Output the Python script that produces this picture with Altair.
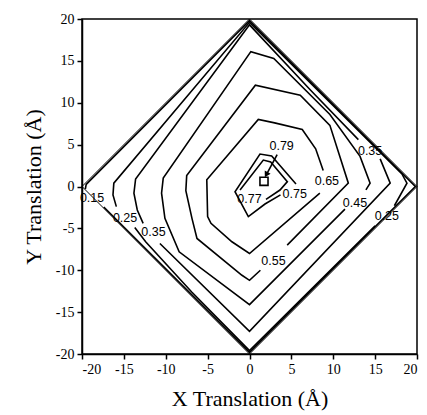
import altair as alt
import pandas as pd

ticks = [-20, -15, -10, -5, 0, 5, 10, 15, 20]

# diamond boundary of the sampled region
edge = [(0, 20), (20, 0), (0, -20), (-20, 0), (0, 20)]

# contour segments (x, y); split where labels sit
c015 = [[(-17.4, -2.45), (0, -19.8), (19.8, 0), (0, 19.8), (-19.5, 0.25), (-19.6, -0.3)]]
c025 = [[(-15.9, -2.4), (-16.3, -1.0), (-16.2, 0.4), (0, 19.6), (18.2, 1.5), (18.8, 0.4), (17.3, -2.3)],
        [(15.0, -4.7), (0, -19.6), (-6.9, -12.6), (-12.4, -6.6), (-13.7, -4.9)]]
c035 = [[(-12.7, -4.4), (-13.4, -2.8), (-13.8, -0.8), (-13.6, 0.9), (0, 19.3), (7.3, 11.5), (13.0, 5.6)],
        [(15.6, 3.3), (16.8, 0.4), (0, -17.3), (-10.7, -6.8)]]
c045 = [[(11.4, -2.7), (0, -14.1), (-8.4, -7.8), (-10.1, -3.8), (-10.5, -0.8), (-10.3, 1.0),
         (0.16, 16.1), (2.9, 15.3), (9.6, 8.6), (13.2, 3.6), (14.4, 0.4), (13.9, -0.4)]]
c055 = [[(4.5, -7.0), (11.8, 0.4), (9.6, 7.3), (6.06, 10.9), (0.7, 12.1), (-7.5, 1.3), (-7.6, -0.5),
         (-6.87, -3.8), (-6.27, -6.2), (-0.9, -10.6), (0, -11.2), (1.3, -10.0)]]
c065 = [[(8.4, -0.8), (0, -8.0), (-2.1, -6.6), (-4.6, -4.4), (-5.0, -3.6), (-5.1, 0.8), (1.05, 8.0),
         (3.0, 7.6), (6.3, 6.8), (7.9, 4.5), (8.8, 1.9)]]
c075 = [[(5.55, 0.3), (2.65, 3.64), (1.25, 3.88), (-1.73, -0.62), (-0.14, -3.6), (1.85, -2.09), (3.7, -1.0)]]
c077 = [[(-1.13, -0.42), (1.65, 3.16), (2.53, 2.93), (4.52, 0.58), (3.64, -0.42), (1.97, -1.53)]]

label_text = ["0.79", "0.77", "0.75", "0.65", "0.55", "0.45", "0.35", "0.25", "0.15", "0.25", "0.35"]
label_x = [3.84, 0.0, 5.4, 9.24, 2.87, 12.6, 14.4, 16.4, -18.8, -14.86, -11.47]
label_y = [4.84, -1.5, -0.88, 0.64, -8.88, -2.0, 4.26, -3.5, -1.35, -3.8, -5.4]

peak_x = [1.73]
peak_y = [0.62]
arrow_x = [3.3, 2.0]
arrow_y = [3.8, 1.4]

rows = []
for name, segs in [("0.15", c015), ("0.25", c025), ("0.35", c035), ("0.45", c045),
                   ("0.55", c055), ("0.65", c065), ("0.75", c075), ("0.77", c077)]:
    for si, seg in enumerate(segs):
        for oi, (x, y) in enumerate(seg):
            rows.append({"x": x, "y": y, "seg": f"{name}-{si}", "ord": oi})
lines_df = pd.DataFrame(rows)
edge_df = pd.DataFrame([{"x": x, "y": y, "ord": i} for i, (x, y) in enumerate(edge)])
labels_df = pd.DataFrame({"x": label_x, "y": label_y, "t": label_text})
peak_df = pd.DataFrame({"x": peak_x, "y": peak_y})
arrow_df = pd.DataFrame({"x": arrow_x, "y": arrow_y, "ord": [0, 1]})
tip_df = pd.DataFrame({"x": [arrow_x[1]], "y": [arrow_y[1]]})

X = alt.X("x:Q", scale=alt.Scale(domain=[-20, 20], nice=False),
          axis=alt.Axis(values=ticks, title="X Translation (Å)", labelExpr="'' + datum.value",
                        grid=False, titlePadding=12, labelPadding=3))
Y = alt.Y("y:Q", scale=alt.Scale(domain=[-20, 20], nice=False),
          axis=alt.Axis(values=ticks, title="Y Translation (Å)", labelExpr="'' + datum.value",
                        grid=False, titlePadding=10, labelPadding=3))

edge_layer = alt.Chart(edge_df).mark_line(color="black", strokeWidth=1).encode(x=X, y=Y, order="ord:Q")
contours = alt.Chart(lines_df).mark_line(color="black", strokeWidth=1.6).encode(
    x=X, y=Y, detail="seg:N", order="ord:Q")
labels = alt.Chart(labels_df).mark_text(font="Liberation Sans", fontSize=12.5, color="black").encode(
    x=X, y=Y, text="t:N")
peak = alt.Chart(peak_df).mark_point(shape="square", filled=False, color="black", size=65,
                                     strokeWidth=1.6, opacity=1).encode(x=X, y=Y)
arrow = alt.Chart(arrow_df).mark_line(color="black", strokeWidth=1.6).encode(x=X, y=Y, order="ord:Q")
tip = alt.Chart(tip_df).mark_point(shape="triangle-up", filled=True, color="black", size=45,
                                   angle=209, opacity=1).encode(x=X, y=Y)

chart = alt.layer(edge_layer, contours, labels, peak, arrow, tip).properties(
    width=335, height=335,
    autosize=alt.AutoSizeParams(type="none"),
    padding={"left": 74, "top": 11, "right": 2, "bottom": 61},
).configure_view(stroke="black", strokeWidth=1.5).configure_axis(
    domainColor="black", tickColor="black", labelColor="black", titleColor="black",
    labelFont="Liberation Serif", titleFont="Liberation Serif", labelFontSize=14,
    titleFontSize=22, titleFontWeight="normal", tickSize=5, domainWidth=1.5, tickWidth=1.5)

chart.save("out.html", embed_options={"renderer": "svg", "actions": False})
